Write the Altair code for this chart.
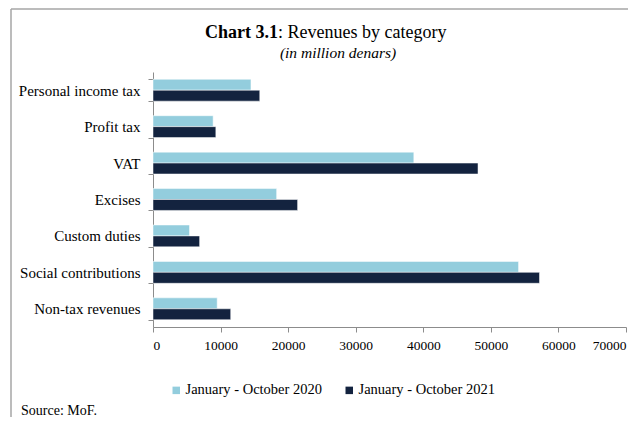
import altair as alt
import pandas as pd

categories = ["Personal income tax", "Profit tax", "VAT", "Excises",
              "Custom duties", "Social contributions", "Non-tax revenues"]
series = ["January - October 2020", "January - October 2021"]
v2020 = [14500, 8900, 38600, 18300, 5400, 54100, 9500]
v2021 = [15800, 9300, 48100, 21400, 6900, 57200, 11500]
colors = ["#93CDDD", "#13233F"]
x_ticks = [0, 10000, 20000, 30000, 40000, 50000, 60000, 70000]

rows = []
for c, a, b in zip(categories, v2020, v2021):
    rows.append({"category": c, "series": series[0], "value": a})
    rows.append({"category": c, "series": series[1], "value": b})
df = pd.DataFrame(rows)

FONT = "Liberation Serif"

bars = alt.Chart(df).mark_bar(stroke="white", strokeWidth=0.5).encode(
    y=alt.Y("category:N", sort=categories, title=None,
            scale=alt.Scale(paddingInner=0.4, paddingOuter=0.2),
            axis=alt.Axis(tickBand="extent", labelFont=FONT, labelFontSize=15,
                          labelColor="#000", domainColor="#8c8c8c", tickColor="#8c8c8c",
                          tickSize=5, labelPadding=8, labelLimit=200)),
    x=alt.X("value:Q", title=None,
            scale=alt.Scale(domain=[0, 70000], nice=False),
            axis=alt.Axis(values=x_ticks, format="d", grid=False, labelFont=FONT,
                          labelFontSize=13.5, labelColor="#000", domainColor="#8c8c8c",
                          tickColor="#8c8c8c", tickSize=5, labelPadding=6)),
    yOffset=alt.YOffset("series:N", sort=series),
    color=alt.Color("series:N", sort=series,
                    scale=alt.Scale(domain=series, range=colors),
                    legend=alt.Legend(title=None, orient="none", legendX=16, legendY=311,
                                      direction="horizontal", symbolType="square",
                                      symbolSize=56, symbolStrokeWidth=0,
                                      labelFont=FONT, labelFontSize=14.5, labelColor="#000",
                                      columnPadding=20, labelOffset=2, labelLimit=300)),
)

title_a = alt.Chart(pd.DataFrame({"t": ["Chart 3.1"]})).mark_text(
    font=FONT, fontSize=18, fontWeight="bold", align="right", baseline="middle", color="#000"
).encode(x=alt.value(125), y=alt.value(-39), text="t:N")

title_b = alt.Chart(pd.DataFrame({"t": [": Revenues by category"]})).mark_text(
    font=FONT, fontSize=18, align="left", baseline="middle", color="#000"
).encode(x=alt.value(125), y=alt.value(-39), text="t:N")

subtitle = alt.Chart(pd.DataFrame({"t": ["(in million denars)"]})).mark_text(
    font=FONT, fontSize=15.5, fontStyle="italic", align="center", baseline="middle", color="#000"
).encode(x=alt.value(185), y=alt.value(-19), text="t:N")

source = alt.Chart(pd.DataFrame({"t": ["Source: MoF."]})).mark_text(
    font=FONT, fontSize=14, align="left", baseline="middle", color="#000"
).encode(x=alt.value(-132), y=alt.value(339), text="t:N")

frame_top = alt.Chart(pd.DataFrame({"k": [0]})).mark_rule(color="#a6a6a6", strokeWidth=1.5).encode(
    x=alt.value(-142), x2=alt.value(480), y=alt.value(-63))
frame_left = alt.Chart(pd.DataFrame({"k": [0]})).mark_rule(color="#a6a6a6", strokeWidth=1.5).encode(
    x=alt.value(-142), y=alt.value(-63), y2=alt.value(360))

chart = alt.layer(frame_top, frame_left, bars, title_a, title_b, subtitle, source).properties(
    width=473, height=255,
    padding={"left": 145, "top": 64, "right": 2, "bottom": 90},
    autosize=alt.AutoSizeParams(type="none"),
    background="white",
).configure_view(stroke=None)

chart.save("out.html", embed_options={"renderer": "svg", "actions": False})
